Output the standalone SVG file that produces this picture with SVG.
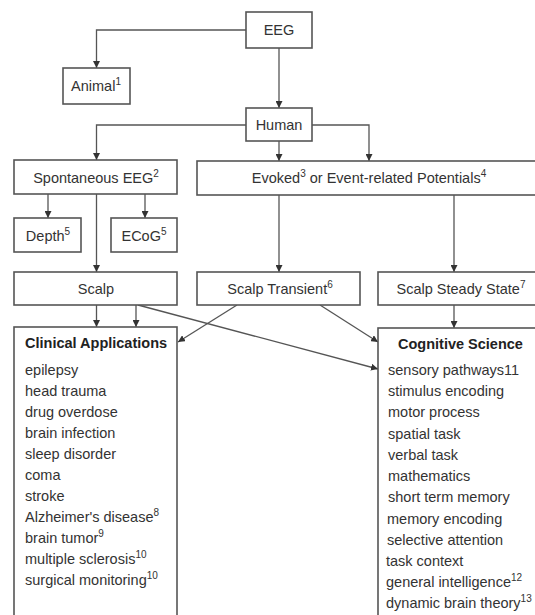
<svg xmlns="http://www.w3.org/2000/svg" width="535" height="615" viewBox="0 0 535 615">
<defs>
<marker id="ah" viewBox="0 0 10 10" refX="10" refY="5" markerWidth="7" markerHeight="7" markerUnits="userSpaceOnUse" orient="auto">
<path d="M0,0 L10,5 L0,10 Z" fill="#333"/>
</marker>
<style>
.box{fill:#fff;stroke:#555;stroke-width:1.6}
.t{font-family:"Liberation Sans",Arial,sans-serif;font-size:14.5px;fill:#333}
.c{text-anchor:middle}
.b{font-weight:bold;fill:#222}
.sup{font-size:10px}
.ln{fill:none;stroke:#555;stroke-width:1.3;marker-end:url(#ah)}
</style>
</defs>
<rect width="535" height="615" fill="#fff"/>
<g id="connectors">
<path class="ln" d="M246,30 H96.5 V68"/>
<path class="ln" d="M279,48 V108"/>
<path class="ln" d="M246,125 H96.5 V160"/>
<path class="ln" d="M279,141 V161"/>
<path class="ln" d="M312,125 H369 V161"/>
<path class="ln" d="M48,194 V218"/>
<path class="ln" d="M145,194 V218"/>
<path class="ln" d="M96.5,194 V272"/>
<path class="ln" d="M279,195 V272"/>
<path class="ln" d="M454,195 V272"/>
<path class="ln" d="M96.5,305 V327"/>
<path class="ln" d="M136,305 V327"/>
<path class="ln" d="M138,305 L378,369"/>
<path class="ln" d="M237,305 L178,342"/>
<path class="ln" d="M320,305 L378,342"/>
<path class="ln" d="M454,305 V328"/>
</g>
<g id="eeg"><rect class="box" x="246" y="12" width="66" height="36"/><text class="t c" x="279" y="35">EEG</text></g>
<g id="animal"><rect class="box" x="63" y="68" width="67" height="36"/><text class="t c" x="96" y="91">Animal<tspan class="sup" dy="-6">1</tspan></text></g>
<g id="human"><rect class="box" x="246" y="108" width="66" height="33"/><text class="t c" x="279" y="130">Human</text></g>
<g id="spontaneous"><rect class="box" x="14" y="160" width="163" height="34"/><text class="t c" x="96" y="183">Spontaneous EEG<tspan class="sup" dy="-6">2</tspan></text></g>
<g id="evoked"><rect class="box" x="197" y="161" width="350" height="34"/><text class="t c" x="369" y="183">Evoked<tspan class="sup" dy="-6">3</tspan><tspan dy="6"> or Event-related Potentials</tspan><tspan class="sup" dy="-6">4</tspan></text></g>
<g id="depth"><rect class="box" x="14" y="218" width="67" height="34"/><text class="t c" x="48" y="241">Depth<tspan class="sup" dy="-6">5</tspan></text></g>
<g id="ecog"><rect class="box" x="111" y="218" width="66" height="34"/><text class="t c" x="144" y="241">ECoG<tspan class="sup" dy="-6">5</tspan></text></g>
<g id="scalp"><rect class="box" x="14" y="272" width="163" height="33"/><text class="t c" x="96" y="294">Scalp</text></g>
<g id="scalp-transient"><rect class="box" x="197" y="272" width="163" height="33"/><text class="t c" x="280" y="294">Scalp Transient<tspan class="sup" dy="-6">6</tspan></text></g>
<g id="scalp-steady"><rect class="box" x="378" y="272" width="170" height="33"/><text class="t c" x="461" y="294">Scalp Steady State<tspan class="sup" dy="-6">7</tspan></text></g>
<g id="clinical">
<rect class="box" x="14" y="327" width="163" height="300"/>
<text class="t b" x="25" y="348">Clinical Applications</text>
<text class="t" x="25" y="375">epilepsy</text>
<text class="t" x="25" y="396">head trauma</text>
<text class="t" x="25" y="417">drug overdose</text>
<text class="t" x="25" y="438">brain infection</text>
<text class="t" x="25" y="459">sleep disorder</text>
<text class="t" x="25" y="480">coma</text>
<text class="t" x="25" y="501">stroke</text>
<text class="t" x="25" y="522">Alzheimer's disease<tspan class="sup" dy="-6">8</tspan></text>
<text class="t" x="25" y="543">brain tumor<tspan class="sup" dy="-6">9</tspan></text>
<text class="t" x="25" y="564">multiple sclerosis<tspan class="sup" dy="-6">10</tspan></text>
<text class="t" x="25" y="585">surgical monitoring<tspan class="sup" dy="-6">10</tspan></text>
</g>
<g id="cognitive">
<rect class="box" x="378" y="328" width="170" height="300"/>
<text class="t b" x="398" y="349">Cognitive Science</text>
<text class="t" x="388" y="375">sensory pathways11</text>
<text class="t" x="388" y="396">stimulus encoding</text>
<text class="t" x="388" y="417">motor process</text>
<text class="t" x="388" y="439">spatial task</text>
<text class="t" x="388" y="460">verbal task</text>
<text class="t" x="388" y="481">mathematics</text>
<text class="t" x="388" y="502">short term memory</text>
<text class="t" x="387" y="524">memory encoding</text>
<text class="t" x="387" y="545">selective attention</text>
<text class="t" x="386" y="566">task context</text>
<text class="t" x="386" y="587">general intelligence<tspan class="sup" dy="-6">12</tspan></text>
<text class="t" x="386" y="608">dynamic brain theory<tspan class="sup" dy="-6">13</tspan></text>
</g>
</svg>
